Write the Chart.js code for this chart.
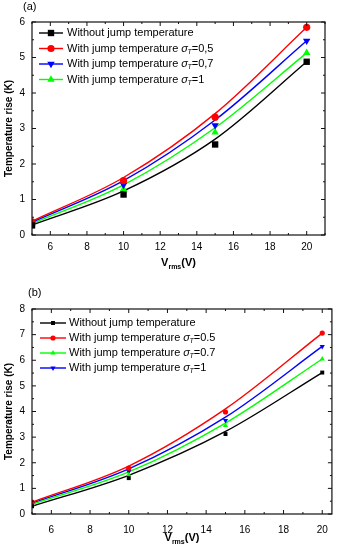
<!DOCTYPE html>
<html>
<head>
<meta charset="utf-8">
<script src="https://cdn.jsdelivr.net/npm/chart.js@4.4.1/dist/chart.umd.min.js"></script>
<style>
  html, body { margin: 0; padding: 0; background: #fff; }
  canvas { display: block; }
</style>
</head>
<body>
<canvas id="chartA" width="338" height="270"></canvas>
<canvas id="chartB" width="338" height="280"></canvas>
<script>
/* global Chart */
const FONT = "'Liberation Sans', Arial, sans-serif";

// shared x values (V_rms, volts)
const vrms = [5, 10, 15, 20];
const xTicks = [6, 8, 10, 12, 14, 16, 18, 20];

// panel (a): markers
const aNoJump = [0.27, 1.14, 2.55, 4.88];
const aSigma05 = [0.37, 1.53, 3.32, 5.85];
const aSigma07 = [0.35, 1.41, 3.09, 5.47];
const aSigma1 = [0.31, 1.29, 2.89, 5.13];
// panel (a): fitted curves, read at the same voltages
const aNoJumpFit = [0.28, 1.24, 2.70, 4.88];
const aSigma05Fit = [0.39, 1.62, 3.42, 5.85];
const aSigma07Fit = [0.36, 1.53, 3.24, 5.47];
const aSigma1Fit = [0.32, 1.41, 3.02, 5.13];
const aLabels = [
  "Without jump temperature",
  "With jump temperature σT=0,5",
  "With jump temperature σT=0,7",
  "With jump temperature σT=1",
];
const aYTicks = [0, 1, 2, 3, 4, 5, 6];

// panel (b): markers
const bNoJump = [0.30, 1.40, 3.12, 5.52];
const bSigma05 = [0.46, 1.79, 3.98, 7.06];
const bSigma07 = [0.38, 1.53, 3.45, 6.05];
const bSigma1 = [0.42, 1.66, 3.65, 6.54];
// panel (b): fitted curves
const bNoJumpFit = [0.30, 1.51, 3.22, 5.52];
const bSigma05Fit = [0.46, 1.87, 4.10, 7.06];
const bSigma07Fit = [0.38, 1.64, 3.55, 6.05];
const bSigma1Fit = [0.42, 1.76, 3.78, 6.54];
const bLabels = [
  "Without jump temperature",
  "With jump temperature σT=0.5",
  "With jump temperature σT=0.7",
  "With jump temperature σT=1",
];
const bYTicks = [0, 1, 2, 3, 4, 5, 6, 7, 8];

const BLACK = "#000000", RED = "#ff0000", BLUE = "#0000ff", GREEN = "#00ff00";

const pts = (ys) => vrms.map((x, i) => ({ x, y: ys[i] }));

function makeSeries(label, color, style, rot, ys, fit, r) {
  return [
    {
      label, data: pts(ys), showLine: false, order: 1,
      pointStyle: style, rotation: rot, pointRadius: r, pointHoverRadius: r,
      backgroundColor: color, borderColor: color, borderWidth: 0,
    },
    {
      label: label + " fit", data: pts(fit), showLine: true, order: 2,
      pointRadius: 0, borderColor: color, borderWidth: 1.4,
      cubicInterpolationMode: "monotone", fill: false,
    },
  ];
}

function drawMark(ctx, style, rot, r, color, x, y) {
  ctx.save();
  ctx.fillStyle = color;
  ctx.strokeStyle = color;
  Chart.helpers.drawPoint(ctx, { pointStyle: style, rotation: rot, radius: r, borderWidth: 0 }, x, y);
  ctx.restore();
}

function drawLabel(ctx, text, x, y) {
  ctx.fillStyle = "#000";
  ctx.textBaseline = "middle";
  ctx.textAlign = "left";
  ctx.font = `11px ${FONT}`;
  const i = text.indexOf("σT");
  if (i < 0) { ctx.fillText(text, x, y); return; }
  const pre = text.slice(0, i), post = text.slice(i + 2);
  ctx.fillText(pre, x, y); x += ctx.measureText(pre).width;
  ctx.font = `italic 11px ${FONT}`;
  ctx.fillText("σ", x, y); x += ctx.measureText("σ").width;
  ctx.font = `italic 7px ${FONT}`;
  ctx.fillText("T", x - 0.5, y + 3.5); x += ctx.measureText("T").width - 0.5;
  ctx.font = `11px ${FONT}`;
  ctx.fillText(post, x, y);
}

// frame, inward ticks, panel tag, legend and subscripted x title
const decoPlugin = {
  id: "deco",
  afterDraw(chart, args, opts) {
    const { ctx, chartArea: a } = chart;
    const xs = chart.scales.x, ys = chart.scales.y;
    ctx.save();
    ctx.strokeStyle = "#111";
    ctx.lineWidth = 1.2;
    ctx.strokeRect(a.left, a.top, a.right - a.left, a.bottom - a.top);

    const tick = (scale, horiz, len) => (v) => {
      const p = scale.getPixelForValue(v);
      ctx.beginPath();
      if (horiz) {
        ctx.moveTo(p, a.bottom); ctx.lineTo(p, a.bottom - len);
        ctx.moveTo(p, a.top); ctx.lineTo(p, a.top + len);
      } else {
        ctx.moveTo(a.left, p); ctx.lineTo(a.left + len, p);
        ctx.moveTo(a.right, p); ctx.lineTo(a.right - len, p);
      }
      ctx.stroke();
    };
    const minors = (vals, min, max) => {
      const step = vals[1] - vals[0];
      const out = [];
      for (const v of vals) {
        if (v - step / 2 >= min) out.push(v - step / 2);
      }
      const last = vals[vals.length - 1] + step / 2;
      if (last <= max) out.push(last);
      return out;
    };
    ctx.lineWidth = 1;
    const xv = xs.ticks.map((t) => t.value);
    const yv = ys.ticks.map((t) => t.value);
    xv.forEach(tick(xs, true, 4));
    minors(xv, xs.min, xs.max).forEach(tick(xs, true, 2));
    yv.forEach(tick(ys, false, 4));
    minors(yv, ys.min, ys.max).forEach(tick(ys, false, 2));

    // panel tag
    ctx.fillStyle = "#000";
    ctx.font = `11px ${FONT}`;
    ctx.textAlign = "left";
    ctx.textBaseline = "middle";
    ctx.fillText(opts.tag, opts.tagX, opts.tagY);

    // legend
    const lg = opts.legend;
    lg.order.forEach((di, k) => {
      const ds = chart.data.datasets[di];
      const y = lg.y0 + k * lg.dy;
      ctx.strokeStyle = ds.borderColor;
      ctx.lineWidth = 1.4;
      ctx.beginPath();
      ctx.moveTo(lg.x0, y); ctx.lineTo(lg.x1, y);
      ctx.stroke();
      drawMark(ctx, ds.pointStyle, ds.rotation, ds.pointRadius, ds.backgroundColor, (lg.x0 + lg.x1) / 2, y);
      drawLabel(ctx, ds.label, lg.x1 + lg.gap, y);
    });

    // x title: V_rms(V)
    const cx = (a.left + a.right) / 2;
    const big = `bold 11px ${FONT}`, small = `bold 7px ${FONT}`;
    ctx.font = big; const wV = ctx.measureText("V").width; const wP = ctx.measureText("(V)").width;
    ctx.font = small; const wS = ctx.measureText("rms").width;
    let x = cx - (wV + wS + wP) / 2;
    const ty = opts.titleY;
    ctx.textBaseline = "alphabetic";
    ctx.font = big; ctx.fillText("V", x, ty); x += wV;
    ctx.font = small; ctx.fillText("rms", x, ty + 3); x += wS;
    ctx.font = big; ctx.fillText("(V)", x, ty);
    ctx.restore();
  },
};

function makeChart(id, cfg) {
  const datasets = [];
  cfg.series.forEach((s) => datasets.push(...makeSeries(...s)));
  return new Chart(document.getElementById(id), {
    type: "scatter",
    data: { datasets },
    plugins: [decoPlugin],
    options: {
      responsive: false,
      animation: false,
      events: [],
      layout: { padding: { left: 0, top: cfg.top, right: cfg.right, bottom: 0 } },
      plugins: {
        legend: { display: false },
        tooltip: { enabled: false },
        deco: cfg.deco,
      },
      scales: {
        x: {
          type: "linear", min: 5, max: cfg.xMax,
          afterBuildTicks: (s) => { s.ticks = xTicks.map((v) => ({ value: v })); },
          afterFit: (s) => { s.height = cfg.xHeight; },
          grid: { display: false, drawTicks: false },
          border: { display: false },
          ticks: { padding: cfg.xPad, color: "#000", font: { family: FONT, size: 10 }, maxRotation: 0, autoSkip: false },
        },
        y: {
          type: "linear", min: 0, max: cfg.yTicks[cfg.yTicks.length - 1],
          afterBuildTicks: (s) => { s.ticks = cfg.yTicks.map((v) => ({ value: v })); },
          afterFit: (s) => { s.width = 32; },
          grid: { display: false, drawTicks: false },
          border: { display: false },
          ticks: { padding: 7, color: "#000", font: { family: FONT, size: 10 } },
          title: {
            display: true, text: "Temperature rise (K)", color: "#000",
            font: { family: FONT, size: 10, weight: "bold" }, padding: { top: 3, bottom: 0 },
          },
        },
      },
    },
  });
}

makeChart("chartA", {
  top: 22, right: 13, xMax: 21, xHeight: 35, xPad: 6, yTicks: aYTicks,
  series: [
    [aLabels[0], BLACK, "rect", 0, aNoJump, aNoJumpFit, 4.5],
    [aLabels[1], RED, "circle", 0, aSigma05, aSigma05Fit, 3.6],
    [aLabels[2], BLUE, "triangle", 180, aSigma07, aSigma07Fit, 4.3],
    [aLabels[3], GREEN, "triangle", 0, aSigma1, aSigma1Fit, 4.3],
  ],
  deco: {
    tag: "(a)", tagX: 23, tagY: 7,
    titleY: 266,
    legend: { order: [0, 2, 4, 6], x0: 39, x1: 63, gap: 4, y0: 33, dy: 15.5 },
  },
});

makeChart("chartB", {
  top: 39, right: 6, xMax: 20.5, xHeight: 36, xPad: 10, yTicks: bYTicks,
  series: [
    [bLabels[0], BLACK, "rect", 0, bNoJump, bNoJumpFit, 2.8],
    [bLabels[1], RED, "circle", 0, bSigma05, bSigma05Fit, 2.6],
    [bLabels[2], GREEN, "triangle", 0, bSigma07, bSigma07Fit, 3],
    [bLabels[3], BLUE, "triangle", 180, bSigma1, bSigma1Fit, 3],
  ],
  deco: {
    tag: "(b)", tagX: 28, tagY: 23,
    titleY: 271,
    legend: { order: [0, 2, 4, 6], x0: 40, x1: 66, gap: 3, y0: 53, dy: 15 },
  },
});
</script>
</body>
</html>
